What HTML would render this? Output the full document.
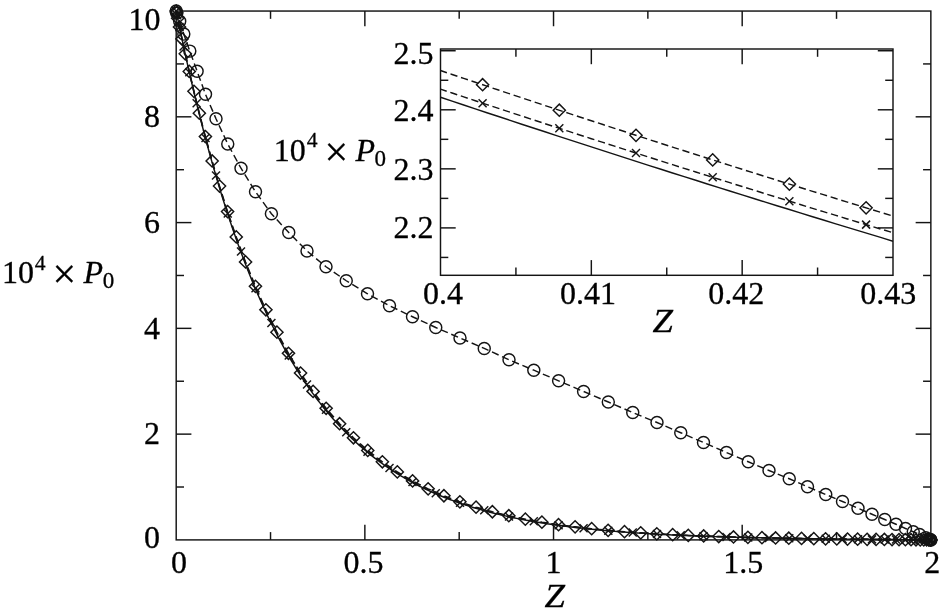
<!DOCTYPE html>
<html><head><meta charset="utf-8"><title>Plot</title>
<style>
html,body{margin:0;padding:0;background:#fff;}
body{width:944px;height:612px;overflow:hidden;}
svg{display:block;}
svg text{font-family:"Liberation Serif","DejaVu Serif",serif;fill:#000;stroke:#000;stroke-width:0.3px;}
</style></head><body>
<svg width="944" height="612" viewBox="0 0 944 612">
<rect width="944" height="612" fill="#fff"/>
<g stroke="#141414" fill="none">
<rect x="176.20" y="11.05" width="754.65" height="528.85" fill="none" stroke-width="1.45"/>
<line x1="270.53" y1="539.90" x2="270.53" y2="532.10" stroke-width="1.45" />
<line x1="270.53" y1="11.05" x2="270.53" y2="18.85" stroke-width="1.45" />
<line x1="364.86" y1="539.90" x2="364.86" y2="524.70" stroke-width="1.45" />
<line x1="364.86" y1="11.05" x2="364.86" y2="26.25" stroke-width="1.45" />
<line x1="459.19" y1="539.90" x2="459.19" y2="532.10" stroke-width="1.45" />
<line x1="459.19" y1="11.05" x2="459.19" y2="18.85" stroke-width="1.45" />
<line x1="553.53" y1="539.90" x2="553.53" y2="524.70" stroke-width="1.45" />
<line x1="553.53" y1="11.05" x2="553.53" y2="26.25" stroke-width="1.45" />
<line x1="647.86" y1="539.90" x2="647.86" y2="532.10" stroke-width="1.45" />
<line x1="647.86" y1="11.05" x2="647.86" y2="18.85" stroke-width="1.45" />
<line x1="742.19" y1="539.90" x2="742.19" y2="524.70" stroke-width="1.45" />
<line x1="742.19" y1="11.05" x2="742.19" y2="26.25" stroke-width="1.45" />
<line x1="836.52" y1="539.90" x2="836.52" y2="532.10" stroke-width="1.45" />
<line x1="836.52" y1="11.05" x2="836.52" y2="18.85" stroke-width="1.45" />
<line x1="176.20" y1="487.01" x2="184.00" y2="487.01" stroke-width="1.45" />
<line x1="930.85" y1="487.01" x2="923.05" y2="487.01" stroke-width="1.45" />
<line x1="176.20" y1="434.13" x2="191.40" y2="434.13" stroke-width="1.45" />
<line x1="930.85" y1="434.13" x2="915.65" y2="434.13" stroke-width="1.45" />
<line x1="176.20" y1="381.24" x2="184.00" y2="381.24" stroke-width="1.45" />
<line x1="930.85" y1="381.24" x2="923.05" y2="381.24" stroke-width="1.45" />
<line x1="176.20" y1="328.36" x2="191.40" y2="328.36" stroke-width="1.45" />
<line x1="930.85" y1="328.36" x2="915.65" y2="328.36" stroke-width="1.45" />
<line x1="176.20" y1="275.47" x2="184.00" y2="275.47" stroke-width="1.45" />
<line x1="930.85" y1="275.47" x2="923.05" y2="275.47" stroke-width="1.45" />
<line x1="176.20" y1="222.59" x2="191.40" y2="222.59" stroke-width="1.45" />
<line x1="930.85" y1="222.59" x2="915.65" y2="222.59" stroke-width="1.45" />
<line x1="176.20" y1="169.70" x2="184.00" y2="169.70" stroke-width="1.45" />
<line x1="930.85" y1="169.70" x2="923.05" y2="169.70" stroke-width="1.45" />
<line x1="176.20" y1="116.82" x2="191.40" y2="116.82" stroke-width="1.45" />
<line x1="930.85" y1="116.82" x2="915.65" y2="116.82" stroke-width="1.45" />
<line x1="176.20" y1="63.93" x2="184.00" y2="63.93" stroke-width="1.45" />
<line x1="930.85" y1="63.93" x2="923.05" y2="63.93" stroke-width="1.45" />
<polyline points="176.20,11.05 178.09,20.37 179.98,29.52 181.87,38.51 183.77,47.34 185.66,56.02 187.55,64.55 189.44,72.92 191.33,81.15 193.22,89.23 195.11,97.17 197.00,104.97 198.90,112.63 200.79,120.16 202.68,127.55 204.57,134.82 206.46,141.96 208.35,148.97 210.24,155.85 212.14,162.62 214.03,169.27 215.92,175.80 217.81,182.21 219.70,188.51 221.59,194.70 223.48,200.78 225.38,206.76 227.27,212.63 229.16,218.39 231.05,224.06 232.94,229.62 234.83,235.09 236.72,240.46 238.61,245.73 240.51,250.92 242.40,256.01 244.29,261.01 246.18,265.92 248.07,270.75 249.96,275.49 251.85,280.15 253.75,284.72 255.64,289.22 257.53,293.64 259.42,297.98 261.31,302.24 263.20,306.42 265.09,310.54 266.98,314.58 268.88,318.55 270.77,322.45 272.66,326.28 274.55,330.04 276.44,333.74 278.33,337.37 280.22,340.94 282.12,344.44 284.01,347.89 285.90,351.27 287.79,354.59 289.68,357.86 291.57,361.07 293.46,364.22 295.36,367.31 297.25,370.35 299.14,373.34 301.03,376.27 302.92,379.16 304.81,381.99 306.70,384.77 308.59,387.50 310.49,390.19 312.38,392.83 314.27,395.42 316.16,397.96 318.05,400.46 319.94,402.92 321.83,405.33 323.73,407.70 325.62,410.03 327.51,412.32 329.40,414.57 331.29,416.78 333.18,418.95 335.07,421.08 336.97,423.17 338.86,425.23 340.75,427.25 342.64,429.23 344.53,431.18 346.42,433.10 348.31,434.98 350.20,436.83 352.10,438.64 353.99,440.43 355.88,442.18 357.77,443.90 359.66,445.59 361.55,447.25 363.44,448.89 365.34,450.49 367.23,452.06 369.12,453.61 371.01,455.13 372.90,456.63 374.79,458.09 376.68,459.53 378.57,460.95 380.47,462.34 382.36,463.71 384.25,465.05 386.14,466.37 388.03,467.66 389.92,468.94 391.81,470.19 393.71,471.42 395.60,472.62 397.49,473.81 399.38,474.97 401.27,476.12 403.16,477.24 405.05,478.34 406.95,479.43 408.84,480.49 410.73,481.54 412.62,482.57 414.51,483.58 416.40,484.57 418.29,485.55 420.18,486.50 422.08,487.44 423.97,488.37 425.86,489.28 427.75,490.17 429.64,491.05 431.53,491.91 433.42,492.75 435.32,493.58 437.21,494.40 439.10,495.20 440.99,495.99 442.88,496.76 444.77,497.52 446.66,498.27 448.55,499.00 450.45,499.72 452.34,500.43 454.23,501.13 456.12,501.81 458.01,502.48 459.90,503.14 461.79,503.79 463.69,504.42 465.58,505.05 467.47,505.66 469.36,506.27 471.25,506.86 473.14,507.44 475.03,508.01 476.93,508.58 478.82,509.13 480.71,509.67 482.60,510.20 484.49,510.73 486.38,511.24 488.27,511.75 490.16,512.24 492.06,512.73 493.95,513.21 495.84,513.68 497.73,514.14 499.62,514.60 501.51,515.04 503.40,515.48 505.30,515.91 507.19,516.33 509.08,516.75 510.97,517.16 512.86,517.56 514.75,517.95 516.64,518.34 518.53,518.72 520.43,519.09 522.32,519.46 524.21,519.82 526.10,520.17 527.99,520.52 529.88,520.86 531.77,521.20 533.67,521.53 535.56,521.85 537.45,522.17 539.34,522.48 541.23,522.79 543.12,523.09 545.01,523.39 546.91,523.68 548.80,523.97 550.69,524.25 552.58,524.52 554.47,524.80 556.36,525.06 558.25,525.32 560.14,525.58 562.04,525.83 563.93,526.08 565.82,526.33 567.71,526.57 569.60,526.80 571.49,527.03 573.38,527.26 575.28,527.48 577.17,527.70 579.06,527.92 580.95,528.13 582.84,528.34 584.73,528.54 586.62,528.74 588.52,528.94 590.41,529.13 592.30,529.32 594.19,529.51 596.08,529.69 597.97,529.87 599.86,530.05 601.75,530.23 603.65,530.40 605.54,530.57 607.43,530.73 609.32,530.89 611.21,531.05 613.10,531.21 614.99,531.36 616.89,531.51 618.78,531.66 620.67,531.81 622.56,531.95 624.45,532.09 626.34,532.23 628.23,532.37 630.12,532.50 632.02,532.63 633.91,532.76 635.80,532.89 637.69,533.01 639.58,533.13 641.47,533.26 643.36,533.37 645.26,533.49 647.15,533.60 649.04,533.72 650.93,533.83 652.82,533.93 654.71,534.04 656.60,534.14 658.50,534.25 660.39,534.35 662.28,534.45 664.17,534.54 666.06,534.64 667.95,534.73 669.84,534.83 671.73,534.92 673.63,535.01 675.52,535.09 677.41,535.18 679.30,535.26 681.19,535.35 683.08,535.43 684.97,535.51 686.87,535.59 688.76,535.67 690.65,535.74 692.54,535.82 694.43,535.89 696.32,535.96 698.21,536.03 700.10,536.10 702.00,536.17 703.89,536.24 705.78,536.31 707.67,536.37 709.56,536.44 711.45,536.50 713.34,536.56 715.24,536.62 717.13,536.68 719.02,536.74 720.91,536.80 722.80,536.85 724.69,536.91 726.58,536.97 728.48,537.02 730.37,537.07 732.26,537.12 734.15,537.18 736.04,537.23 737.93,537.28 739.82,537.32 741.71,537.37 743.61,537.42 745.50,537.47 747.39,537.51 749.28,537.56 751.17,537.60 753.06,537.64 754.95,537.69 756.85,537.73 758.74,537.77 760.63,537.81 762.52,537.85 764.41,537.89 766.30,537.93 768.19,537.97 770.08,538.00 771.98,538.04 773.87,538.08 775.76,538.11 777.65,538.15 779.54,538.18 781.43,538.22 783.32,538.25 785.22,538.28 787.11,538.32 789.00,538.35 790.89,538.38 792.78,538.41 794.67,538.44 796.56,538.47 798.46,538.50 800.35,538.53 802.24,538.56 804.13,538.59 806.02,538.61 807.91,538.64 809.80,538.67 811.69,538.70 813.59,538.72 815.48,538.75 817.37,538.77 819.26,538.80 821.15,538.82 823.04,538.85 824.93,538.87 826.83,538.90 828.72,538.92 830.61,538.94 832.50,538.97 834.39,538.99 836.28,539.01 838.17,539.03 840.07,539.06 841.96,539.08 843.85,539.10 845.74,539.12 847.63,539.14 849.52,539.16 851.41,539.18 853.30,539.20 855.20,539.22 857.09,539.24 858.98,539.26 860.87,539.28 862.76,539.30 864.65,539.32 866.54,539.34 868.44,539.35 870.33,539.37 872.22,539.39 874.11,539.41 876.00,539.43 877.89,539.44 879.78,539.46 881.67,539.48 883.57,539.50 885.46,539.51 887.35,539.53 889.24,539.55 891.13,539.56 893.02,539.58 894.91,539.60 896.81,539.61 898.70,539.63 900.59,539.65 902.48,539.66 904.37,539.68 906.26,539.69 908.15,539.71 910.05,539.73 911.94,539.74 913.83,539.76 915.72,539.77 917.61,539.79 919.50,539.81 921.39,539.82 923.28,539.84 925.18,539.85 927.07,539.87 928.96,539.88 930.85,539.90" fill="none" stroke-width="1.45" />
<polyline points="176.20,11.05 176.57,12.84 177.66,18.16 179.48,26.91 182.03,38.88 185.29,53.83 189.27,71.44 193.96,91.36 199.34,113.19 205.40,136.53 212.14,160.98 219.54,186.11 227.59,211.56 236.26,236.95 245.55,261.96 255.44,286.32 265.91,309.78 276.93,332.14 288.48,353.26 300.55,373.03 313.11,391.38 326.14,408.28 339.60,423.74 353.48,437.77 367.75,450.43 382.37,461.78 397.33,471.90 412.59,480.88 428.12,488.80 443.90,495.75 459.88,501.84 476.05,507.14 492.37,511.75 508.81,515.73 525.33,519.17 541.91,522.13 558.51,524.67 575.10,526.84 591.65,528.71 608.12,530.30 624.49,531.66 640.72,532.82 656.79,533.81 672.65,534.65 688.28,535.38 703.65,535.99 718.74,536.52 733.50,536.97 747.91,537.36 761.95,537.69 775.58,537.98 788.78,538.23 801.53,538.44 813.80,538.63 825.57,538.80 836.80,538.95 847.49,539.08 857.61,539.19 867.15,539.30 876.07,539.39 884.37,539.47 892.03,539.55 899.04,539.61 905.37,539.67 911.03,539.72 915.99,539.77 920.25,539.81 923.80,539.84 926.64,539.86 928.75,539.88 930.13,539.89 930.79,539.90 930.85,539.90" fill="none" stroke-width="1.45" stroke-dasharray="7.3 3.8"/>
<polyline points="176.20,11.05 177.02,15.12 179.50,27.12 183.60,46.46 189.33,72.20 196.64,103.16 205.50,137.91 216.00,175.54 227.75,213.49 241.00,251.56 255.50,288.16 271.40,322.97 288.75,355.49 307.00,384.45 326.00,409.78 346.25,432.25 367.50,451.67 389.50,468.09 412.50,482.00 435.75,493.33 460.00,502.79 484.25,510.33 509.00,516.44 533.80,521.31 558.60,525.16 583.60,528.25 608.30,530.66 632.75,532.56 657.00,534.06 680.75,535.24 703.50,536.15 726.50,536.90 748.25,537.48 769.00,537.94 789.25,538.32 807.50,538.61 825.75,538.86 842.50,539.06 858.00,539.23 872.00,539.38 884.75,539.50 896.00,539.60 905.50,539.68 913.25,539.75 919.50,539.80 925.70,539.86 928.99,539.88 930.64,539.90 930.85,539.90" fill="none" stroke-width="1.45" stroke-dasharray="7.3 3.8"/>
<polyline points="176.20,11.05 176.80,13.10 179.70,21.20 183.80,34.10 189.80,51.10 197.10,71.20 205.50,94.30 216.00,118.75 227.75,144.00 241.00,168.25 255.50,191.75 271.40,213.75 288.75,232.50 307.00,251.00 326.00,266.75 346.25,280.75 367.50,293.75 389.50,305.75 412.50,316.75 435.75,327.50 460.00,338.00 484.25,348.40 509.00,359.80 533.80,370.20 558.60,380.80 583.60,391.50 608.30,402.00 632.75,412.50 657.00,422.50 680.75,432.75 703.50,442.50 726.50,452.50 748.25,461.75 769.00,470.50 789.25,478.75 807.50,486.75 825.75,494.50 842.50,501.50 858.00,508.25 872.00,514.25 884.75,519.50 896.00,524.25 905.50,528.50 913.25,531.75 919.50,534.50 925.70,537.70 928.99,539.11 930.64,539.81 930.85,539.90" fill="none" stroke-width="1.45" stroke-dasharray="7.3 3.8" stroke-dashoffset="0.06"/>
<circle cx="176.20" cy="11.05" r="6.0" fill="none" stroke-width="1.45"/>
<circle cx="176.80" cy="13.10" r="6.0" fill="none" stroke-width="1.45"/>
<circle cx="179.70" cy="21.20" r="6.0" fill="none" stroke-width="1.45"/>
<circle cx="183.80" cy="34.10" r="6.0" fill="none" stroke-width="1.45"/>
<circle cx="189.80" cy="51.10" r="6.0" fill="none" stroke-width="1.45"/>
<circle cx="197.10" cy="71.20" r="6.0" fill="none" stroke-width="1.45"/>
<circle cx="205.50" cy="94.30" r="6.0" fill="none" stroke-width="1.45"/>
<circle cx="216.00" cy="118.75" r="6.0" fill="none" stroke-width="1.45"/>
<circle cx="227.75" cy="144.00" r="6.0" fill="none" stroke-width="1.45"/>
<circle cx="241.00" cy="168.25" r="6.0" fill="none" stroke-width="1.45"/>
<circle cx="255.50" cy="191.75" r="6.0" fill="none" stroke-width="1.45"/>
<circle cx="271.40" cy="213.75" r="6.0" fill="none" stroke-width="1.45"/>
<circle cx="288.75" cy="232.50" r="6.0" fill="none" stroke-width="1.45"/>
<circle cx="307.00" cy="251.00" r="6.0" fill="none" stroke-width="1.45"/>
<circle cx="326.00" cy="266.75" r="6.0" fill="none" stroke-width="1.45"/>
<circle cx="346.25" cy="280.75" r="6.0" fill="none" stroke-width="1.45"/>
<circle cx="367.50" cy="293.75" r="6.0" fill="none" stroke-width="1.45"/>
<circle cx="389.50" cy="305.75" r="6.0" fill="none" stroke-width="1.45"/>
<circle cx="412.50" cy="316.75" r="6.0" fill="none" stroke-width="1.45"/>
<circle cx="435.75" cy="327.50" r="6.0" fill="none" stroke-width="1.45"/>
<circle cx="460.00" cy="338.00" r="6.0" fill="none" stroke-width="1.45"/>
<circle cx="484.25" cy="348.40" r="6.0" fill="none" stroke-width="1.45"/>
<circle cx="509.00" cy="359.80" r="6.0" fill="none" stroke-width="1.45"/>
<circle cx="533.80" cy="370.20" r="6.0" fill="none" stroke-width="1.45"/>
<circle cx="558.60" cy="380.80" r="6.0" fill="none" stroke-width="1.45"/>
<circle cx="583.60" cy="391.50" r="6.0" fill="none" stroke-width="1.45"/>
<circle cx="608.30" cy="402.00" r="6.0" fill="none" stroke-width="1.45"/>
<circle cx="632.75" cy="412.50" r="6.0" fill="none" stroke-width="1.45"/>
<circle cx="657.00" cy="422.50" r="6.0" fill="none" stroke-width="1.45"/>
<circle cx="680.75" cy="432.75" r="6.0" fill="none" stroke-width="1.45"/>
<circle cx="703.50" cy="442.50" r="6.0" fill="none" stroke-width="1.45"/>
<circle cx="726.50" cy="452.50" r="6.0" fill="none" stroke-width="1.45"/>
<circle cx="748.25" cy="461.75" r="6.0" fill="none" stroke-width="1.45"/>
<circle cx="769.00" cy="470.50" r="6.0" fill="none" stroke-width="1.45"/>
<circle cx="789.25" cy="478.75" r="6.0" fill="none" stroke-width="1.45"/>
<circle cx="807.50" cy="486.75" r="6.0" fill="none" stroke-width="1.45"/>
<circle cx="825.75" cy="494.50" r="6.0" fill="none" stroke-width="1.45"/>
<circle cx="842.50" cy="501.50" r="6.0" fill="none" stroke-width="1.45"/>
<circle cx="858.00" cy="508.25" r="6.0" fill="none" stroke-width="1.45"/>
<circle cx="872.00" cy="514.25" r="6.0" fill="none" stroke-width="1.45"/>
<circle cx="884.75" cy="519.50" r="6.0" fill="none" stroke-width="1.45"/>
<circle cx="896.00" cy="524.25" r="6.0" fill="none" stroke-width="1.45"/>
<circle cx="905.50" cy="528.50" r="6.0" fill="none" stroke-width="1.45"/>
<circle cx="913.25" cy="531.75" r="6.0" fill="none" stroke-width="1.45"/>
<circle cx="919.50" cy="534.50" r="6.0" fill="none" stroke-width="1.45"/>
<circle cx="925.70" cy="537.70" r="6.0" fill="none" stroke-width="1.45"/>
<circle cx="928.99" cy="539.11" r="6.0" fill="none" stroke-width="1.45"/>
<circle cx="930.64" cy="539.81" r="6.0" fill="none" stroke-width="1.45"/>
<circle cx="930.85" cy="539.90" r="6.0" fill="none" stroke-width="1.45"/>
<polygon points="170.10,11.05 176.20,4.95 182.30,11.05 176.20,17.15" fill="none" stroke-width="1.45"/>
<polygon points="170.47,12.84 176.57,6.74 182.67,12.84 176.57,18.94" fill="none" stroke-width="1.45"/>
<polygon points="171.56,18.16 177.66,12.06 183.76,18.16 177.66,24.26" fill="none" stroke-width="1.45"/>
<polygon points="173.38,26.91 179.48,20.81 185.58,26.91 179.48,33.01" fill="none" stroke-width="1.45"/>
<polygon points="175.93,38.88 182.03,32.78 188.13,38.88 182.03,44.98" fill="none" stroke-width="1.45"/>
<polygon points="179.19,53.83 185.29,47.73 191.39,53.83 185.29,59.93" fill="none" stroke-width="1.45"/>
<polygon points="183.17,71.44 189.27,65.34 195.37,71.44 189.27,77.54" fill="none" stroke-width="1.45"/>
<polygon points="187.86,91.36 193.96,85.26 200.06,91.36 193.96,97.46" fill="none" stroke-width="1.45"/>
<polygon points="193.24,113.19 199.34,107.09 205.44,113.19 199.34,119.29" fill="none" stroke-width="1.45"/>
<polygon points="199.30,136.53 205.40,130.43 211.50,136.53 205.40,142.63" fill="none" stroke-width="1.45"/>
<polygon points="206.04,160.98 212.14,154.88 218.24,160.98 212.14,167.08" fill="none" stroke-width="1.45"/>
<polygon points="213.44,186.11 219.54,180.01 225.64,186.11 219.54,192.21" fill="none" stroke-width="1.45"/>
<polygon points="221.49,211.56 227.59,205.46 233.69,211.56 227.59,217.66" fill="none" stroke-width="1.45"/>
<polygon points="230.16,236.95 236.26,230.85 242.36,236.95 236.26,243.05" fill="none" stroke-width="1.45"/>
<polygon points="239.45,261.96 245.55,255.86 251.65,261.96 245.55,268.06" fill="none" stroke-width="1.45"/>
<polygon points="249.34,286.32 255.44,280.22 261.54,286.32 255.44,292.42" fill="none" stroke-width="1.45"/>
<polygon points="259.81,309.78 265.91,303.68 272.01,309.78 265.91,315.88" fill="none" stroke-width="1.45"/>
<polygon points="270.83,332.14 276.93,326.04 283.03,332.14 276.93,338.24" fill="none" stroke-width="1.45"/>
<polygon points="282.38,353.26 288.48,347.16 294.58,353.26 288.48,359.36" fill="none" stroke-width="1.45"/>
<polygon points="294.45,373.03 300.55,366.93 306.65,373.03 300.55,379.13" fill="none" stroke-width="1.45"/>
<polygon points="307.01,391.38 313.11,385.28 319.21,391.38 313.11,397.48" fill="none" stroke-width="1.45"/>
<polygon points="320.04,408.28 326.14,402.18 332.24,408.28 326.14,414.38" fill="none" stroke-width="1.45"/>
<polygon points="333.50,423.74 339.60,417.64 345.70,423.74 339.60,429.84" fill="none" stroke-width="1.45"/>
<polygon points="347.38,437.77 353.48,431.67 359.58,437.77 353.48,443.87" fill="none" stroke-width="1.45"/>
<polygon points="361.65,450.43 367.75,444.33 373.85,450.43 367.75,456.53" fill="none" stroke-width="1.45"/>
<polygon points="376.27,461.78 382.37,455.68 388.47,461.78 382.37,467.88" fill="none" stroke-width="1.45"/>
<polygon points="391.23,471.90 397.33,465.80 403.43,471.90 397.33,478.00" fill="none" stroke-width="1.45"/>
<polygon points="406.49,480.88 412.59,474.78 418.69,480.88 412.59,486.98" fill="none" stroke-width="1.45"/>
<polygon points="422.02,488.80 428.12,482.70 434.22,488.80 428.12,494.90" fill="none" stroke-width="1.45"/>
<polygon points="437.80,495.75 443.90,489.65 450.00,495.75 443.90,501.85" fill="none" stroke-width="1.45"/>
<polygon points="453.78,501.84 459.88,495.74 465.98,501.84 459.88,507.94" fill="none" stroke-width="1.45"/>
<polygon points="469.95,507.14 476.05,501.04 482.15,507.14 476.05,513.24" fill="none" stroke-width="1.45"/>
<polygon points="486.27,511.75 492.37,505.65 498.47,511.75 492.37,517.85" fill="none" stroke-width="1.45"/>
<polygon points="502.71,515.73 508.81,509.63 514.91,515.73 508.81,521.83" fill="none" stroke-width="1.45"/>
<polygon points="519.23,519.17 525.33,513.07 531.43,519.17 525.33,525.27" fill="none" stroke-width="1.45"/>
<polygon points="535.81,522.13 541.91,516.03 548.01,522.13 541.91,528.23" fill="none" stroke-width="1.45"/>
<polygon points="552.41,524.67 558.51,518.57 564.61,524.67 558.51,530.77" fill="none" stroke-width="1.45"/>
<polygon points="569.00,526.84 575.10,520.74 581.20,526.84 575.10,532.94" fill="none" stroke-width="1.45"/>
<polygon points="585.55,528.71 591.65,522.61 597.75,528.71 591.65,534.81" fill="none" stroke-width="1.45"/>
<polygon points="602.02,530.30 608.12,524.20 614.22,530.30 608.12,536.40" fill="none" stroke-width="1.45"/>
<polygon points="618.39,531.66 624.49,525.56 630.59,531.66 624.49,537.76" fill="none" stroke-width="1.45"/>
<polygon points="634.62,532.82 640.72,526.72 646.82,532.82 640.72,538.92" fill="none" stroke-width="1.45"/>
<polygon points="650.69,533.81 656.79,527.71 662.89,533.81 656.79,539.91" fill="none" stroke-width="1.45"/>
<polygon points="666.55,534.65 672.65,528.55 678.75,534.65 672.65,540.75" fill="none" stroke-width="1.45"/>
<polygon points="682.18,535.38 688.28,529.28 694.38,535.38 688.28,541.48" fill="none" stroke-width="1.45"/>
<polygon points="697.55,535.99 703.65,529.89 709.75,535.99 703.65,542.09" fill="none" stroke-width="1.45"/>
<polygon points="712.64,536.52 718.74,530.42 724.84,536.52 718.74,542.62" fill="none" stroke-width="1.45"/>
<polygon points="727.40,536.97 733.50,530.87 739.60,536.97 733.50,543.07" fill="none" stroke-width="1.45"/>
<polygon points="741.81,537.36 747.91,531.26 754.01,537.36 747.91,543.46" fill="none" stroke-width="1.45"/>
<polygon points="755.85,537.69 761.95,531.59 768.05,537.69 761.95,543.79" fill="none" stroke-width="1.45"/>
<polygon points="769.48,537.98 775.58,531.88 781.68,537.98 775.58,544.08" fill="none" stroke-width="1.45"/>
<polygon points="782.68,538.23 788.78,532.13 794.88,538.23 788.78,544.33" fill="none" stroke-width="1.45"/>
<polygon points="795.43,538.44 801.53,532.34 807.63,538.44 801.53,544.54" fill="none" stroke-width="1.45"/>
<polygon points="807.70,538.63 813.80,532.53 819.90,538.63 813.80,544.73" fill="none" stroke-width="1.45"/>
<polygon points="819.47,538.80 825.57,532.70 831.67,538.80 825.57,544.90" fill="none" stroke-width="1.45"/>
<polygon points="830.70,538.95 836.80,532.85 842.90,538.95 836.80,545.05" fill="none" stroke-width="1.45"/>
<polygon points="841.39,539.08 847.49,532.98 853.59,539.08 847.49,545.18" fill="none" stroke-width="1.45"/>
<polygon points="851.51,539.19 857.61,533.09 863.71,539.19 857.61,545.29" fill="none" stroke-width="1.45"/>
<polygon points="861.05,539.30 867.15,533.20 873.25,539.30 867.15,545.40" fill="none" stroke-width="1.45"/>
<polygon points="869.97,539.39 876.07,533.29 882.17,539.39 876.07,545.49" fill="none" stroke-width="1.45"/>
<polygon points="878.27,539.47 884.37,533.37 890.47,539.47 884.37,545.57" fill="none" stroke-width="1.45"/>
<polygon points="885.93,539.55 892.03,533.45 898.13,539.55 892.03,545.65" fill="none" stroke-width="1.45"/>
<polygon points="892.94,539.61 899.04,533.51 905.14,539.61 899.04,545.71" fill="none" stroke-width="1.45"/>
<polygon points="899.27,539.67 905.37,533.57 911.47,539.67 905.37,545.77" fill="none" stroke-width="1.45"/>
<polygon points="904.93,539.72 911.03,533.62 917.13,539.72 911.03,545.82" fill="none" stroke-width="1.45"/>
<polygon points="909.89,539.77 915.99,533.67 922.09,539.77 915.99,545.87" fill="none" stroke-width="1.45"/>
<polygon points="914.15,539.81 920.25,533.71 926.35,539.81 920.25,545.91" fill="none" stroke-width="1.45"/>
<polygon points="917.70,539.84 923.80,533.74 929.90,539.84 923.80,545.94" fill="none" stroke-width="1.45"/>
<polygon points="920.54,539.86 926.64,533.76 932.74,539.86 926.64,545.96" fill="none" stroke-width="1.45"/>
<polygon points="922.65,539.88 928.75,533.78 934.85,539.88 928.75,545.98" fill="none" stroke-width="1.45"/>
<polygon points="924.03,539.89 930.13,533.79 936.23,539.89 930.13,545.99" fill="none" stroke-width="1.45"/>
<polygon points="924.69,539.90 930.79,533.80 936.89,539.90 930.79,546.00" fill="none" stroke-width="1.45"/>
<polygon points="924.75,539.90 930.85,533.80 936.95,539.90 930.85,546.00" fill="none" stroke-width="1.45"/>
<line x1="172.20" y1="7.05" x2="180.20" y2="15.05" stroke-width="1.45" />
<line x1="172.20" y1="15.05" x2="180.20" y2="7.05" stroke-width="1.45" />
<line x1="173.02" y1="11.12" x2="181.02" y2="19.12" stroke-width="1.45" />
<line x1="173.02" y1="19.12" x2="181.02" y2="11.12" stroke-width="1.45" />
<line x1="175.50" y1="23.12" x2="183.50" y2="31.12" stroke-width="1.45" />
<line x1="175.50" y1="31.12" x2="183.50" y2="23.12" stroke-width="1.45" />
<line x1="179.60" y1="42.46" x2="187.60" y2="50.46" stroke-width="1.45" />
<line x1="179.60" y1="50.46" x2="187.60" y2="42.46" stroke-width="1.45" />
<line x1="185.33" y1="68.20" x2="193.33" y2="76.20" stroke-width="1.45" />
<line x1="185.33" y1="76.20" x2="193.33" y2="68.20" stroke-width="1.45" />
<line x1="192.64" y1="99.16" x2="200.64" y2="107.16" stroke-width="1.45" />
<line x1="192.64" y1="107.16" x2="200.64" y2="99.16" stroke-width="1.45" />
<line x1="201.50" y1="133.91" x2="209.50" y2="141.91" stroke-width="1.45" />
<line x1="201.50" y1="141.91" x2="209.50" y2="133.91" stroke-width="1.45" />
<line x1="212.00" y1="171.54" x2="220.00" y2="179.54" stroke-width="1.45" />
<line x1="212.00" y1="179.54" x2="220.00" y2="171.54" stroke-width="1.45" />
<line x1="223.75" y1="209.49" x2="231.75" y2="217.49" stroke-width="1.45" />
<line x1="223.75" y1="217.49" x2="231.75" y2="209.49" stroke-width="1.45" />
<line x1="237.00" y1="247.56" x2="245.00" y2="255.56" stroke-width="1.45" />
<line x1="237.00" y1="255.56" x2="245.00" y2="247.56" stroke-width="1.45" />
<line x1="251.50" y1="284.16" x2="259.50" y2="292.16" stroke-width="1.45" />
<line x1="251.50" y1="292.16" x2="259.50" y2="284.16" stroke-width="1.45" />
<line x1="267.40" y1="318.97" x2="275.40" y2="326.97" stroke-width="1.45" />
<line x1="267.40" y1="326.97" x2="275.40" y2="318.97" stroke-width="1.45" />
<line x1="284.75" y1="351.49" x2="292.75" y2="359.49" stroke-width="1.45" />
<line x1="284.75" y1="359.49" x2="292.75" y2="351.49" stroke-width="1.45" />
<line x1="303.00" y1="380.45" x2="311.00" y2="388.45" stroke-width="1.45" />
<line x1="303.00" y1="388.45" x2="311.00" y2="380.45" stroke-width="1.45" />
<line x1="322.00" y1="405.78" x2="330.00" y2="413.78" stroke-width="1.45" />
<line x1="322.00" y1="413.78" x2="330.00" y2="405.78" stroke-width="1.45" />
<line x1="342.25" y1="428.25" x2="350.25" y2="436.25" stroke-width="1.45" />
<line x1="342.25" y1="436.25" x2="350.25" y2="428.25" stroke-width="1.45" />
<line x1="363.50" y1="447.67" x2="371.50" y2="455.67" stroke-width="1.45" />
<line x1="363.50" y1="455.67" x2="371.50" y2="447.67" stroke-width="1.45" />
<line x1="385.50" y1="464.09" x2="393.50" y2="472.09" stroke-width="1.45" />
<line x1="385.50" y1="472.09" x2="393.50" y2="464.09" stroke-width="1.45" />
<line x1="408.50" y1="478.00" x2="416.50" y2="486.00" stroke-width="1.45" />
<line x1="408.50" y1="486.00" x2="416.50" y2="478.00" stroke-width="1.45" />
<line x1="431.75" y1="489.33" x2="439.75" y2="497.33" stroke-width="1.45" />
<line x1="431.75" y1="497.33" x2="439.75" y2="489.33" stroke-width="1.45" />
<line x1="456.00" y1="498.79" x2="464.00" y2="506.79" stroke-width="1.45" />
<line x1="456.00" y1="506.79" x2="464.00" y2="498.79" stroke-width="1.45" />
<line x1="480.25" y1="506.33" x2="488.25" y2="514.33" stroke-width="1.45" />
<line x1="480.25" y1="514.33" x2="488.25" y2="506.33" stroke-width="1.45" />
<line x1="505.00" y1="512.44" x2="513.00" y2="520.44" stroke-width="1.45" />
<line x1="505.00" y1="520.44" x2="513.00" y2="512.44" stroke-width="1.45" />
<line x1="529.80" y1="517.31" x2="537.80" y2="525.31" stroke-width="1.45" />
<line x1="529.80" y1="525.31" x2="537.80" y2="517.31" stroke-width="1.45" />
<line x1="554.60" y1="521.16" x2="562.60" y2="529.16" stroke-width="1.45" />
<line x1="554.60" y1="529.16" x2="562.60" y2="521.16" stroke-width="1.45" />
<line x1="579.60" y1="524.25" x2="587.60" y2="532.25" stroke-width="1.45" />
<line x1="579.60" y1="532.25" x2="587.60" y2="524.25" stroke-width="1.45" />
<line x1="604.30" y1="526.66" x2="612.30" y2="534.66" stroke-width="1.45" />
<line x1="604.30" y1="534.66" x2="612.30" y2="526.66" stroke-width="1.45" />
<line x1="628.75" y1="528.56" x2="636.75" y2="536.56" stroke-width="1.45" />
<line x1="628.75" y1="536.56" x2="636.75" y2="528.56" stroke-width="1.45" />
<line x1="653.00" y1="530.06" x2="661.00" y2="538.06" stroke-width="1.45" />
<line x1="653.00" y1="538.06" x2="661.00" y2="530.06" stroke-width="1.45" />
<line x1="676.75" y1="531.24" x2="684.75" y2="539.24" stroke-width="1.45" />
<line x1="676.75" y1="539.24" x2="684.75" y2="531.24" stroke-width="1.45" />
<line x1="699.50" y1="532.15" x2="707.50" y2="540.15" stroke-width="1.45" />
<line x1="699.50" y1="540.15" x2="707.50" y2="532.15" stroke-width="1.45" />
<line x1="722.50" y1="532.90" x2="730.50" y2="540.90" stroke-width="1.45" />
<line x1="722.50" y1="540.90" x2="730.50" y2="532.90" stroke-width="1.45" />
<line x1="744.25" y1="533.48" x2="752.25" y2="541.48" stroke-width="1.45" />
<line x1="744.25" y1="541.48" x2="752.25" y2="533.48" stroke-width="1.45" />
<line x1="765.00" y1="533.94" x2="773.00" y2="541.94" stroke-width="1.45" />
<line x1="765.00" y1="541.94" x2="773.00" y2="533.94" stroke-width="1.45" />
<line x1="785.25" y1="534.32" x2="793.25" y2="542.32" stroke-width="1.45" />
<line x1="785.25" y1="542.32" x2="793.25" y2="534.32" stroke-width="1.45" />
<line x1="803.50" y1="534.61" x2="811.50" y2="542.61" stroke-width="1.45" />
<line x1="803.50" y1="542.61" x2="811.50" y2="534.61" stroke-width="1.45" />
<line x1="821.75" y1="534.86" x2="829.75" y2="542.86" stroke-width="1.45" />
<line x1="821.75" y1="542.86" x2="829.75" y2="534.86" stroke-width="1.45" />
<line x1="838.50" y1="535.06" x2="846.50" y2="543.06" stroke-width="1.45" />
<line x1="838.50" y1="543.06" x2="846.50" y2="535.06" stroke-width="1.45" />
<line x1="854.00" y1="535.23" x2="862.00" y2="543.23" stroke-width="1.45" />
<line x1="854.00" y1="543.23" x2="862.00" y2="535.23" stroke-width="1.45" />
<line x1="868.00" y1="535.38" x2="876.00" y2="543.38" stroke-width="1.45" />
<line x1="868.00" y1="543.38" x2="876.00" y2="535.38" stroke-width="1.45" />
<line x1="880.75" y1="535.50" x2="888.75" y2="543.50" stroke-width="1.45" />
<line x1="880.75" y1="543.50" x2="888.75" y2="535.50" stroke-width="1.45" />
<line x1="892.00" y1="535.60" x2="900.00" y2="543.60" stroke-width="1.45" />
<line x1="892.00" y1="543.60" x2="900.00" y2="535.60" stroke-width="1.45" />
<line x1="901.50" y1="535.68" x2="909.50" y2="543.68" stroke-width="1.45" />
<line x1="901.50" y1="543.68" x2="909.50" y2="535.68" stroke-width="1.45" />
<line x1="909.25" y1="535.75" x2="917.25" y2="543.75" stroke-width="1.45" />
<line x1="909.25" y1="543.75" x2="917.25" y2="535.75" stroke-width="1.45" />
<line x1="915.50" y1="535.80" x2="923.50" y2="543.80" stroke-width="1.45" />
<line x1="915.50" y1="543.80" x2="923.50" y2="535.80" stroke-width="1.45" />
<line x1="921.70" y1="535.86" x2="929.70" y2="543.86" stroke-width="1.45" />
<line x1="921.70" y1="543.86" x2="929.70" y2="535.86" stroke-width="1.45" />
<line x1="924.99" y1="535.88" x2="932.99" y2="543.88" stroke-width="1.45" />
<line x1="924.99" y1="543.88" x2="932.99" y2="535.88" stroke-width="1.45" />
<line x1="926.64" y1="535.90" x2="934.64" y2="543.90" stroke-width="1.45" />
<line x1="926.64" y1="543.90" x2="934.64" y2="535.90" stroke-width="1.45" />
<line x1="926.85" y1="535.90" x2="934.85" y2="543.90" stroke-width="1.45" />
<line x1="926.85" y1="543.90" x2="934.85" y2="535.90" stroke-width="1.45" />
<rect x="440.50" y="49.00" width="452.50" height="226.30" fill="#fff" stroke-width="1.45"/>
<line x1="515.92" y1="275.30" x2="515.92" y2="267.50" stroke-width="1.45" />
<line x1="515.92" y1="49.00" x2="515.92" y2="56.80" stroke-width="1.45" />
<line x1="591.33" y1="275.30" x2="591.33" y2="260.10" stroke-width="1.45" />
<line x1="591.33" y1="49.00" x2="591.33" y2="64.20" stroke-width="1.45" />
<line x1="666.75" y1="275.30" x2="666.75" y2="267.50" stroke-width="1.45" />
<line x1="666.75" y1="49.00" x2="666.75" y2="56.80" stroke-width="1.45" />
<line x1="742.17" y1="275.30" x2="742.17" y2="260.10" stroke-width="1.45" />
<line x1="742.17" y1="49.00" x2="742.17" y2="64.20" stroke-width="1.45" />
<line x1="817.58" y1="275.30" x2="817.58" y2="267.50" stroke-width="1.45" />
<line x1="817.58" y1="49.00" x2="817.58" y2="56.80" stroke-width="1.45" />
<line x1="440.50" y1="50.75" x2="455.70" y2="50.75" stroke-width="1.45" />
<line x1="893.00" y1="50.75" x2="877.80" y2="50.75" stroke-width="1.45" />
<line x1="440.50" y1="80.27" x2="448.30" y2="80.27" stroke-width="1.45" />
<line x1="893.00" y1="80.27" x2="885.20" y2="80.27" stroke-width="1.45" />
<line x1="440.50" y1="109.80" x2="455.70" y2="109.80" stroke-width="1.45" />
<line x1="893.00" y1="109.80" x2="877.80" y2="109.80" stroke-width="1.45" />
<line x1="440.50" y1="139.32" x2="448.30" y2="139.32" stroke-width="1.45" />
<line x1="893.00" y1="139.32" x2="885.20" y2="139.32" stroke-width="1.45" />
<line x1="440.50" y1="168.85" x2="455.70" y2="168.85" stroke-width="1.45" />
<line x1="893.00" y1="168.85" x2="877.80" y2="168.85" stroke-width="1.45" />
<line x1="440.50" y1="198.38" x2="448.30" y2="198.38" stroke-width="1.45" />
<line x1="893.00" y1="198.38" x2="885.20" y2="198.38" stroke-width="1.45" />
<line x1="440.50" y1="227.90" x2="455.70" y2="227.90" stroke-width="1.45" />
<line x1="893.00" y1="227.90" x2="877.80" y2="227.90" stroke-width="1.45" />
<line x1="440.50" y1="257.43" x2="448.30" y2="257.43" stroke-width="1.45" />
<line x1="893.00" y1="257.43" x2="885.20" y2="257.43" stroke-width="1.45" />
<clipPath id="ic"><rect x="440.50" y="49.00" width="452.50" height="226.30"/></clipPath>
<g clip-path="url(#ic)">
<polyline points="440.50,97.22 452.10,101.11 463.71,104.98 475.31,108.85 486.91,112.70 498.51,116.54 510.12,120.38 521.72,124.20 533.32,128.01 544.92,131.81 556.53,135.60 568.13,139.39 579.73,143.16 591.33,146.92 602.94,150.67 614.54,154.41 626.14,158.14 637.74,161.86 649.35,165.57 660.95,169.27 672.55,172.96 684.15,176.64 695.76,180.31 707.36,183.97 718.96,187.62 730.56,191.26 742.17,194.89 753.77,198.51 765.37,202.12 776.97,205.72 788.58,209.31 800.18,212.89 811.78,216.46 823.38,220.02 834.99,223.57 846.59,227.11 858.19,230.65 869.79,234.17 881.40,237.68 893.00,241.19" fill="none" stroke-width="1.45" />
<polyline points="440.50,89.13 452.10,93.01 463.71,96.87 475.31,100.72 486.91,104.57 498.51,108.40 510.12,112.22 521.72,116.03 533.32,119.84 544.92,123.63 556.53,127.41 568.13,131.18 579.73,134.94 591.33,138.69 602.94,142.43 614.54,146.16 626.14,149.88 637.74,153.59 649.35,157.29 660.95,160.98 672.55,164.66 684.15,168.34 695.76,172.00 707.36,175.65 718.96,179.29 730.56,182.92 742.17,186.54 753.77,190.15 765.37,193.75 776.97,197.35 788.58,200.93 800.18,204.50 811.78,208.07 823.38,211.62 834.99,215.16 846.59,218.70 858.19,222.22 869.79,225.74 881.40,229.25 893.00,232.74" fill="none" stroke-width="1.45" stroke-dasharray="7.3 3.8" stroke-dashoffset="0.77"/>
<polyline points="440.50,70.53 452.10,74.46 463.71,78.37 475.31,82.28 486.91,86.18 498.51,90.06 510.12,93.93 521.72,97.80 533.32,101.65 544.92,105.50 556.53,109.33 568.13,113.15 579.73,116.96 591.33,120.76 602.94,124.56 614.54,128.34 626.14,132.11 637.74,135.87 649.35,139.62 660.95,143.36 672.55,147.09 684.15,150.81 695.76,154.52 707.36,158.22 718.96,161.91 730.56,165.59 742.17,169.26 753.77,172.92 765.37,176.57 776.97,180.22 788.58,183.85 800.18,187.47 811.78,191.08 823.38,194.68 834.99,198.27 846.59,201.86 858.19,205.43 869.79,208.99 881.40,212.55 893.00,216.09" fill="none" stroke-width="1.45" stroke-dasharray="7.3 3.8" stroke-dashoffset="0.56"/>
<polygon points="476.50,84.73 482.60,78.63 488.70,84.73 482.60,90.83" fill="none" stroke-width="1.45"/>
<line x1="478.60" y1="99.14" x2="486.60" y2="107.14" stroke-width="1.45" />
<line x1="478.60" y1="107.14" x2="486.60" y2="99.14" stroke-width="1.45" />
<polygon points="553.20,110.24 559.30,104.14 565.40,110.24 559.30,116.34" fill="none" stroke-width="1.45"/>
<line x1="555.30" y1="124.31" x2="563.30" y2="132.31" stroke-width="1.45" />
<line x1="555.30" y1="132.31" x2="563.30" y2="124.31" stroke-width="1.45" />
<polygon points="629.90,135.30 636.00,129.20 642.10,135.30 636.00,141.40" fill="none" stroke-width="1.45"/>
<line x1="632.00" y1="149.03" x2="640.00" y2="157.03" stroke-width="1.45" />
<line x1="632.00" y1="157.03" x2="640.00" y2="149.03" stroke-width="1.45" />
<polygon points="706.59,159.92 712.69,153.82 718.79,159.92 712.69,166.02" fill="none" stroke-width="1.45"/>
<line x1="708.69" y1="173.32" x2="716.69" y2="181.32" stroke-width="1.45" />
<line x1="708.69" y1="181.32" x2="716.69" y2="173.32" stroke-width="1.45" />
<polygon points="783.29,184.10 789.39,178.00 795.49,184.10 789.39,190.20" fill="none" stroke-width="1.45"/>
<line x1="785.39" y1="197.18" x2="793.39" y2="205.18" stroke-width="1.45" />
<line x1="785.39" y1="205.18" x2="793.39" y2="197.18" stroke-width="1.45" />
<polygon points="859.99,207.86 866.09,201.76 872.19,207.86 866.09,213.96" fill="none" stroke-width="1.45"/>
<line x1="862.09" y1="220.62" x2="870.09" y2="228.62" stroke-width="1.45" />
<line x1="862.09" y1="228.62" x2="870.09" y2="220.62" stroke-width="1.45" />
</g>
</g>
<g>
<text x="160.00" y="547.60" font-size="32" text-anchor="end" >0</text>
<text x="160.00" y="444.33" font-size="32" text-anchor="end" >2</text>
<text x="160.00" y="338.56" font-size="32" text-anchor="end" >4</text>
<text x="160.00" y="232.79" font-size="32" text-anchor="end" >6</text>
<text x="160.00" y="127.02" font-size="32" text-anchor="end" >8</text>
<text x="160.60" y="29.70" font-size="32" text-anchor="end" >10</text>
<text x="171.00" y="573.10" font-size="32" text-anchor="start" >0</text>
<text x="343.60" y="573.10" font-size="32" text-anchor="start" >0.5</text>
<text x="545.60" y="573.10" font-size="32" text-anchor="start" >1</text>
<text x="723.20" y="573.10" font-size="32" text-anchor="start" >1.5</text>
<text x="924.20" y="573.10" font-size="32" text-anchor="start" >2</text>
<text transform="translate(544.6,607.2) scale(1.15,1.02)" x="0" y="0" font-size="32" font-style="italic">Z</text>
<text x="433.40" y="64.20" font-size="32" text-anchor="end" >2.5</text>
<text x="433.40" y="120.60" font-size="32" text-anchor="end" >2.4</text>
<text x="433.40" y="179.90" font-size="32" text-anchor="end" >2.3</text>
<text x="433.40" y="238.40" font-size="32" text-anchor="end" >2.2</text>
<text x="423.00" y="304.30" font-size="32" text-anchor="start" >0.4</text>
<text x="560.00" y="304.30" font-size="32" text-anchor="start" >0.41</text>
<text x="708.30" y="304.30" font-size="32" text-anchor="start" >0.42</text>
<text x="860.30" y="304.30" font-size="32" text-anchor="start" >0.43</text>
<text transform="translate(652.5,331.6) scale(1.15,1.02)" x="0" y="0" font-size="32" font-style="italic">Z</text>
<text font-size="32"><tspan x="1.90" y="283.00">10</tspan><tspan x="34.80" y="270.40" font-size="21.6">4</tspan><tspan x="52.60" y="288.00" font-size="42">×</tspan><tspan x="83.60" y="283.00" font-style="italic">P</tspan><tspan x="102.70" y="287.90" font-size="23">0</tspan></text>
<text font-size="32"><tspan x="273.80" y="161.20">10</tspan><tspan x="306.70" y="147.40" font-size="21.6">4</tspan><tspan x="324.50" y="166.20" font-size="42">×</tspan><tspan x="355.50" y="161.20" font-style="italic">P</tspan><tspan x="374.60" y="166.10" font-size="23">0</tspan></text>
</g>
</svg>
</body></html>
